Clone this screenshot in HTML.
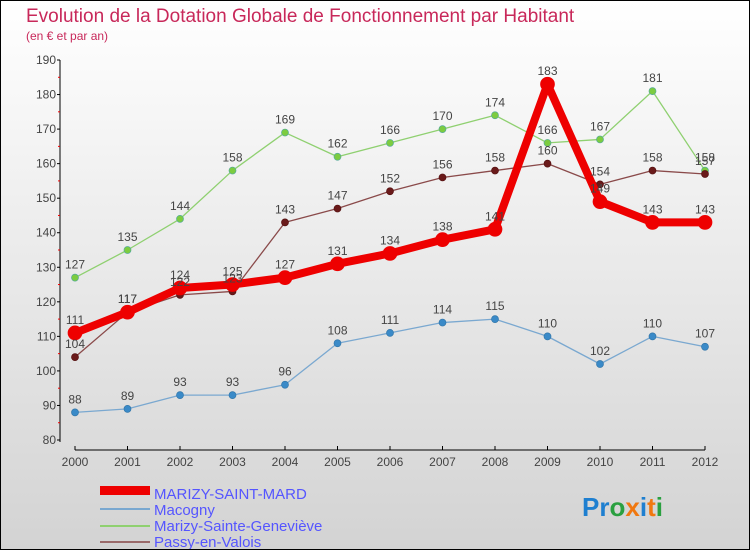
<!DOCTYPE html>
<html><head><meta charset="utf-8"><style>
body{margin:0}
#c{width:750px;height:550px;position:relative;box-sizing:border-box;border:1px solid #000;background:linear-gradient(#fff,#d3d3d3);font-family:"Liberation Sans",sans-serif;overflow:hidden}
</style></head><body>
<div id="c">
<svg id="s" width="750" height="550" style="position:absolute;left:-1px;top:-1px">
<text x="26" y="22" font-size="19" fill="#c8285a">Evolution de la Dotation Globale de Fonctionnement par Habitant</text>
<text x="26" y="40" font-size="12" fill="#c8285a">(en € et par an)</text>
<line x1="60" y1="60" x2="60" y2="442" stroke="#000"/>
<line x1="75" y1="450" x2="705" y2="450" stroke="#000"/>
<g id="ax"></g><g id="ln"></g><g id="lb"></g>
<g>
<rect x="100" y="486" width="50" height="9" fill="#e00"/>
<text x="154" y="499" font-size="15" fill="#55f">MARIZY-SAINT-MARD</text>
<line x1="100" y1="509" x2="150" y2="509" stroke="#7aa8d0" stroke-width="2"/>
<text x="154" y="515" font-size="15" fill="#55f">Macogny</text>
<line x1="100" y1="526" x2="150" y2="526" stroke="#8fd070" stroke-width="2"/>
<text x="154" y="531" font-size="15" fill="#55f">Marizy-Sainte-Geneviève</text>
<line x1="100" y1="542" x2="150" y2="542" stroke="#9a6a6a" stroke-width="2"/>
<text x="154" y="547" font-size="15" fill="#55f">Passy-en-Valois</text>
</g>
<text x="582" y="516" font-size="26" font-weight="bold"><tspan fill="#1e7fd0">Pr</tspan><tspan fill="#2aa040">o</tspan><tspan fill="#f07810">x</tspan><tspan fill="#1e7fd0">i</tspan><tspan fill="#f07810">t</tspan><tspan fill="#2aa040">i</tspan></text>
</svg>
</div>
<script>
const years=[2000,2001,2002,2003,2004,2005,2006,2007,2008,2009,2010,2011,2012];
const yTicks=[80,90,100,110,120,130,140,150,160,170,180,190];
const marizySaintMard=[111,117,124,125,127,131,134,138,141,183,149,143,143];
const macogny=[88,89,93,93,96,108,111,114,115,110,102,110,107];
const marizySainteGenevieve=[127,135,144,158,169,162,166,170,174,166,167,181,158];
const passyEnValois=[104,117,122,123,143,147,152,156,158,160,154,158,157];
const NS="http://www.w3.org/2000/svg";
function X(i){return 75+i*52.5}
function Y(v){return 440-(v-80)*3.4545}
function mk(t,a,p){const e=document.createElementNS(NS,t);for(const k in a)e.setAttribute(k,a[k]);p.appendChild(e);return e}
const ax=document.getElementById('ax'),ln=document.getElementById('ln'),lb=document.getElementById('lb');
yTicks.forEach(v=>{
 const t=mk('text',{x:56,y:Y(v)+4,'font-size':12,fill:'#444','text-anchor':'end'},ax);t.textContent=v;
 
 
 mk('line',{x1:57,x2:60,y1:Y(v),y2:Y(v),stroke:'#000'},ax);
 if(v<190)mk('line',{x1:58,x2:60,y1:Y(v+5),y2:Y(v+5),stroke:'#e00'},ax);
});
years.forEach((y,i)=>{
 mk('line',{x1:X(i),x2:X(i),y1:446,y2:450,stroke:'#000'},ax);
 const t=mk('text',{x:X(i),y:466,'font-size':12,fill:'#444','text-anchor':'middle'},ax);t.textContent=y;
 
 
});
function series(d,name,col,w,r,dot,lc){
 const g=mk('g',{},ln);
 
 
 mk('polyline',{points:d.map((v,i)=>X(i)+','+Y(v)).join(' '),fill:'none',stroke:col,'stroke-width':w,'stroke-linejoin':'round'},g);
 d.forEach((v,i)=>{
  const c=mk('circle',{cx:X(i),cy:Y(v),r:r,fill:dot,stroke:lc,'stroke-width':0.7},g);
  
  
  const t=mk('text',{x:X(i),y:Y(v)-9,'font-size':12,fill:'#444','text-anchor':'middle'},lb);t.textContent=v;
  
  
 });
}
series(marizySainteGenevieve,'marizy-sainte-genevieve','#8fd070',1.3,3.5,'#7ccc40','#5a9');
series(passyEnValois,'passy-en-valois','#8a4a4a',1.3,3.5,'#6a1a1a','#511');
series(macogny,'macogny','#7aa8d0',1.3,3.5,'#3a8ac8','#37a');
series(marizySaintMard,'marizy-saint-mard','#e00',8,7,'#e00','#e00');
</script>
</body></html>
